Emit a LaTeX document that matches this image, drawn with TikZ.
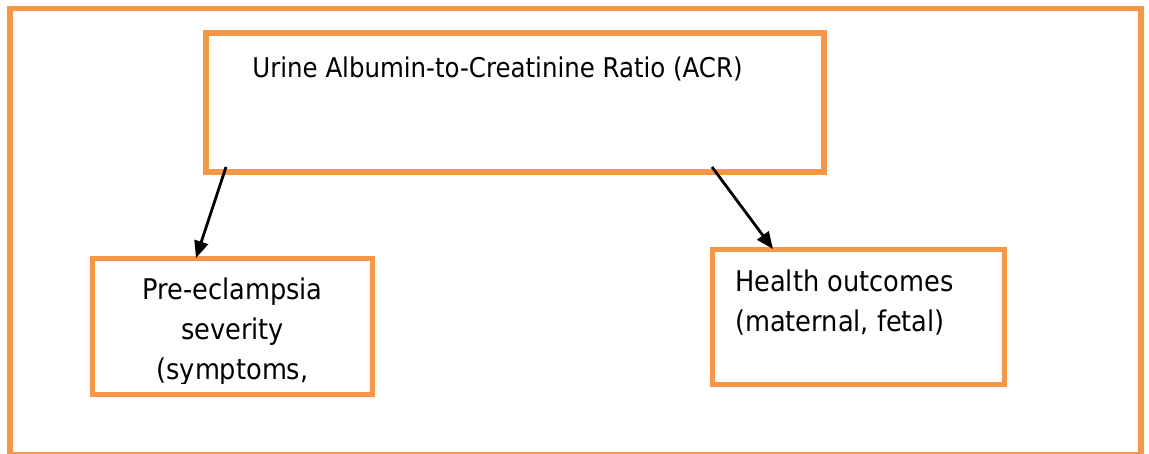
\documentclass[tikz,border=0pt]{standalone}
\usepackage{fontspec}
\setmainfont{DejaVu Sans Condensed}
\usetikzlibrary{arrows.meta}
\definecolor{frameorange}{RGB}{247,150,70}
\tikzset{
  box/.style={draw=frameorange, line width=5.5pt, rectangle, inner sep=0pt},
  lbl/.style={anchor=base, inner sep=0pt, font=\fontsize{28.5}{40}\selectfont},
  arr/.style={line width=2.8pt, -{Triangle[length=17pt,width=14pt]}}
}
\begin{document}
\begin{tikzpicture}[x=1pt,y=-1pt]
\useasboundingbox (0,0) rectangle (1149,454);
\fill[white] (0,0) rectangle (1149,454);
% outer frame
\node[box, minimum width=1131pt, minimum height=446.5pt] (frame) at (575.5,231.75) {};
% boxes
\node[box, minimum width=618pt, minimum height=139pt] (acr) at (515,102.5) {};
\node[box, minimum width=280pt, minimum height=136pt] (pre) at (232.5,326.5) {};
\node[box, minimum width=292pt, minimum height=135pt] (health) at (858.5,317) {};
% texts
\node[lbl, font=\fontsize{27.2}{40}\selectfont] (t1) at (497.5,78) {Urine Albumin-to-Creatinine Ratio (ACR)};
\begin{scope}
\clip (95,261) rectangle (370,383);
\node[lbl] (t2) at (232.5,300) {Pre-eclampsia};
\node[lbl] (t3) at (232.5,340) {severity};
\node[lbl] (t4) at (232.5,380) {(symptoms,};
\end{scope}
\node[lbl, anchor=base west] (t5) at (735,292) {Health outcomes};
\node[lbl, anchor=base west] (t6) at (735,332) {(maternal, fetal)};
% connectors
\coordinate (a1s) at (226,167);
\coordinate (a1e) at (196,258);
\coordinate (a2s) at (712,167);
\coordinate (a2e) at (773,249);
\draw[arr] (a1s) -- (a1e);
\draw[arr] (a2s) -- (a2e);
\end{tikzpicture}
\end{document}
